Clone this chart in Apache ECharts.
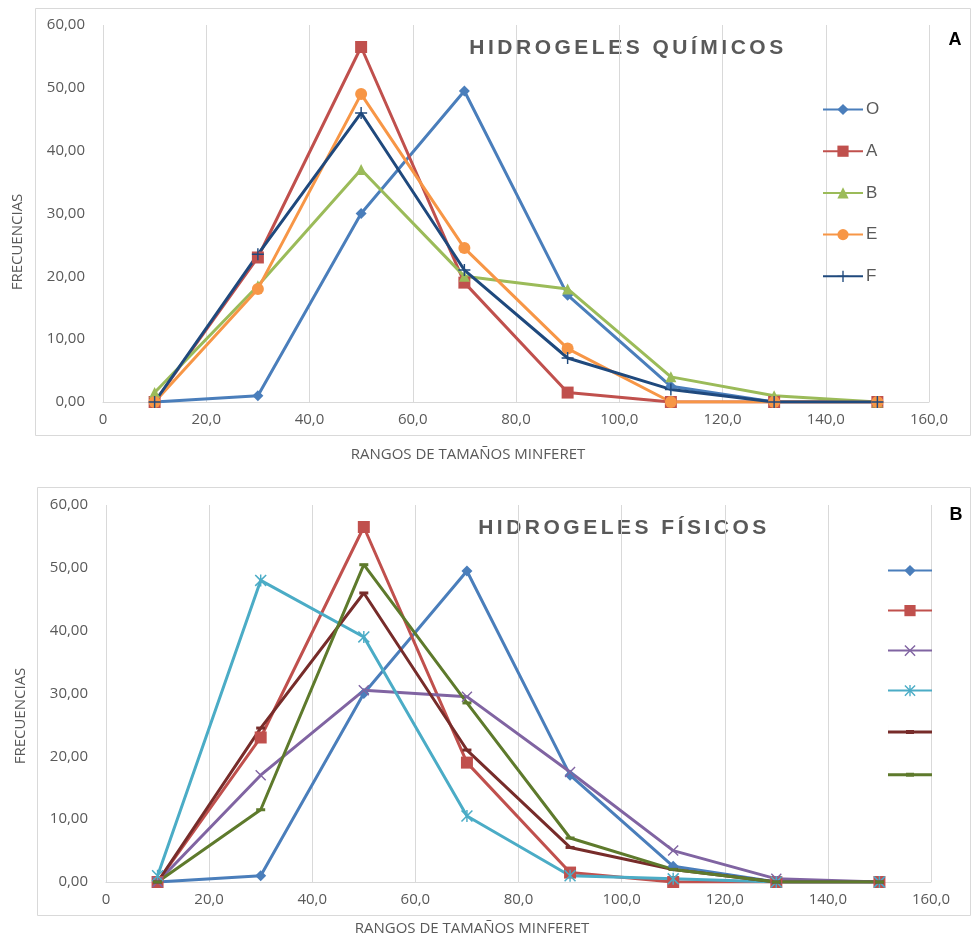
<!DOCTYPE html>
<html><head><meta charset="utf-8">
<script src="https://cdn.jsdelivr.net/npm/echarts@6/dist/echarts.min.js"></script>
<style>html,body{margin:0;padding:0;background:#fff}#c{width:972px;height:940px}</style>
</head><body><div id="c"></div>
<script>
// ----- data -----
const xValues = [10, 30, 50, 70, 90, 110, 130, 150];
// Chart A: HIDROGELES QUÍMICOS
const serO = [0, 1, 30, 49.5, 17, 2.5, 0, 0];
const serA = [0, 23, 56.5, 19, 1.5, 0, 0, 0];
const serB = [1.5, 18.5, 37, 20, 18, 4, 1, 0];
const serE = [0, 18, 49, 24.5, 8.5, 0, 0, 0];
const serF = [0, 23.5, 46, 21, 7, 2, 0, 0];
// Chart B: HIDROGELES FÍSICOS
const fis1 = [0, 1, 30, 49.5, 17, 2.5, 0, 0];
const fis2 = [0, 23, 56.5, 19, 1.5, 0, 0, 0];
const fis3 = [0, 17, 30.5, 29.5, 17.5, 5, 0.5, 0];
const fis4 = [1, 48, 39, 10.5, 1, 0.5, 0, 0];
const fis5 = [0, 24.5, 46, 21, 5.5, 2, 0, 0];
const fis6 = [0, 11.5, 50.5, 28.5, 7, 2, 0, 0];
const namesA = ['O', 'A', 'B', 'E', 'F'];
const namesB = ['s1', 's2', 's3', 's4', 's5', 's6'];
const titleA = 'HIDROGELES QUÍMICOS';
const titleB = 'HIDROGELES FÍSICOS';
const xTitle = 'RANGOS DE TAMAÑOS MINFERET';
const yTitle = 'FRECUENCIAS';

// letter-spaced chart titles (canvas letterSpacing), isolated with save/restore
const origFill = CanvasRenderingContext2D.prototype.fillText;
CanvasRenderingContext2D.prototype.fillText = function (t) {
  if ((t === titleA || t === titleB) && 'letterSpacing' in this) {
    this.save();
    const f = this.font;
    this.letterSpacing = '3.5px';
    this.font = f;
    const r = origFill.apply(this, arguments);
    this.restore();
    this.letterSpacing = '0px';
    this.font = this.font;
    return r;
  }
  return origFill.apply(this, arguments);
};

// ----- styles -----
const gray = '#595959';
const font = 'Open Sans';
const symPlus = 'path://M4.4,0H5.6V4.4H10V5.6H5.6V10H4.4V5.6H0V4.4H4.4Z';
const symX = 'path://M0,0.9L0.9,0L5,4.1L9.1,0L10,0.9L5.9,5L10,9.1L9.1,10L5,5.9L0.9,10L0,9.1L4.1,5Z';
const symStar = 'path://M0,0.9L0.9,0L5,4.1L9.1,0L10,0.9L5.9,5L10,9.1L9.1,10L5,5.9L0.9,10L0,9.1L4.1,5Z M4.4,0H5.6V10H4.4Z';
const symDash = 'path://M0,0H10V3H0Z';
const legDash = 'path://M0,0H0.01V14H0Z M0,5.5H44V8.5H0Z M18,5H26V9H18Z';

function pairs(arr) { return xValues.map((x, i) => [x, arr[i]]); }
function mk(name, data, color, symbol, size, gi) {
  return {
    type: 'line', name: name, data: pairs(data), xAxisIndex: gi, yAxisIndex: gi,
    symbol: symbol, symbolSize: size, symbolKeepAspect: false,
    lineStyle: { color: color, width: 3 }, itemStyle: { color: color },
    showSymbol: true, animation: false
  };
}
function xAx(gi) {
  return {
    type: 'value', gridIndex: gi, min: 0, max: 160, interval: 20,
    axisLine: { show: true, lineStyle: { color: '#D9D9D9', width: 1 } },
    axisTick: { show: false },
    splitLine: { show: true, lineStyle: { color: '#D9D9D9', width: 1 } },
    axisLabel: { color: gray, fontSize: 15, fontFamily: font, margin: 10,
      formatter: v => v === 0 ? '0' : v.toFixed(1).replace('.', ',') }
  };
}
function yAx(gi) {
  return {
    type: 'value', gridIndex: gi, min: 0, max: 60, interval: 10,
    axisLine: { show: false }, axisTick: { show: false }, splitLine: { show: false },
    axisLabel: { color: gray, fontSize: 15, fontFamily: font, margin: 18,
      formatter: v => v.toFixed(2).replace('.', ',') }
  };
}

const chart = echarts.init(document.getElementById('c'), null, { renderer: 'canvas' });
chart.setOption({
  animation: false,
  backgroundColor: '#fff',
  grid: [
    { left: 103, right: 43, top: 25, bottom: 538 },
    { left: 106, right: 41, top: 505, bottom: 58 }
  ],
  xAxis: [xAx(0), xAx(1)],
  yAxis: [yAx(0), yAx(1)],
  legend: [
    { data: namesA, orient: 'vertical', left: 822, top: 101, itemWidth: 40, itemHeight: 14, itemGap: 24.7,
      textStyle: { color: gray, fontSize: 17, fontFamily: 'Liberation Sans', lineHeight: 16, padding: [0, 0, 0, -2] },
      selectedMode: false, padding: 0 },
    { data: namesB.map((n, i) => i >= 4 ? { name: n, icon: legDash } : n),
      orient: 'vertical', left: 887, top: 565, itemWidth: 44, itemHeight: 14, itemGap: 28.8,
      formatter: () => '', textStyle: { fontSize: 14, lineHeight: 14 }, selectedMode: false, padding: 0 }
  ],
  graphic: [
    { type: 'rect', shape: { x: 35.5, y: 8.5, width: 935, height: 427 }, style: { fill: 'none', stroke: '#D9D9D9', lineWidth: 1 }, silent: true },
    { type: 'rect', shape: { x: 37.5, y: 487.5, width: 933, height: 428 }, style: { fill: 'none', stroke: '#D9D9D9', lineWidth: 1 }, silent: true },
    { type: 'text', x: 628, y: 48, style: { text: titleA, fill: gray, font: 'bold 21px "Liberation Sans"', textAlign: 'center', textVerticalAlign: 'middle' } },
    { type: 'text', x: 624, y: 528, style: { text: titleB, fill: gray, font: 'bold 21px "Liberation Sans"', textAlign: 'center', textVerticalAlign: 'middle' } },
    { type: 'text', x: 955, y: 40, style: { text: 'A', fill: '#000', font: 'bold 18px "Liberation Sans"', textAlign: 'center', textVerticalAlign: 'middle' } },
    { type: 'text', x: 956, y: 515, style: { text: 'B', fill: '#000', font: 'bold 18px "Liberation Sans"', textAlign: 'center', textVerticalAlign: 'middle' } },
    { type: 'text', x: 468, y: 455, style: { text: xTitle, fill: gray, font: '15px "Open Sans"', textAlign: 'center', textVerticalAlign: 'middle' } },
    { type: 'text', x: 472, y: 929, style: { text: xTitle, fill: gray, font: '15px "Open Sans"', textAlign: 'center', textVerticalAlign: 'middle' } },
    { type: 'text', x: 18, y: 242, rotation: Math.PI / 2, style: { text: yTitle, fill: gray, font: '15px "Open Sans"', textAlign: 'center', textVerticalAlign: 'middle' } },
    { type: 'text', x: 21, y: 716, rotation: Math.PI / 2, style: { text: yTitle, fill: gray, font: '15px "Open Sans"', textAlign: 'center', textVerticalAlign: 'middle' } }
  ],
  series: [
    mk('O', serO, '#4A7EBB', 'diamond', 11, 0),
    mk('A', serA, '#C0504D', 'rect', 12, 0),
    mk('B', serB, '#9BBB59', 'triangle', 11, 0),
    mk('E', serE, '#F79646', 'circle', 12, 0),
    mk('F', serF, '#1F497D', symPlus, 12, 0),
    mk('s1', fis1, '#4A7EBB', 'diamond', 11, 1),
    mk('s2', fis2, '#C0504D', 'rect', 12, 1),
    mk('s3', fis3, '#8064A2', symX, 11, 1),
    mk('s4', fis4, '#4BACC6', symStar, 12, 1),
    mk('s5', fis5, '#772C2A', symDash, [9, 3], 1),
    mk('s6', fis6, '#5E7A2C', symDash, [9, 3], 1)
  ]
});
</script></body></html>
